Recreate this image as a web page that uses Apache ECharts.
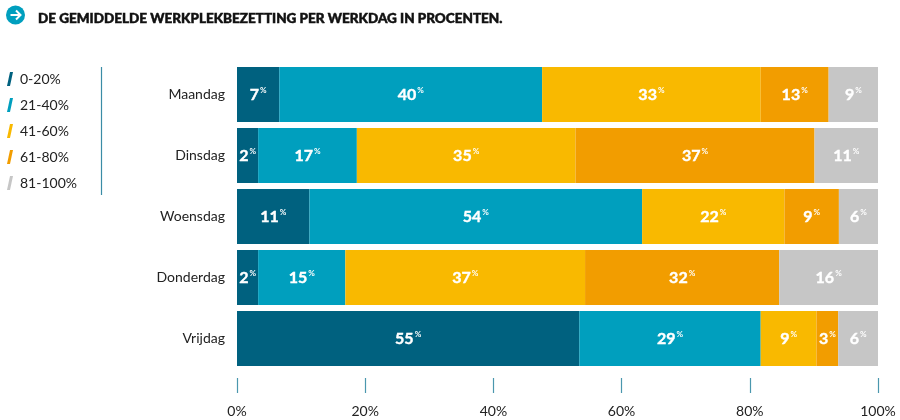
<!DOCTYPE html>
<html>
<head>
<meta charset="utf-8">
<script src="https://cdn.jsdelivr.net/npm/echarts@6/dist/echarts.min.js"></script>
<style>
  html, body { margin: 0; padding: 0; background: #fff; }
  #chart { width: 900px; height: 420px; }
</style>
</head>
<body>
<div id="chart"></div>
<script>
var chart = echarts.init(document.getElementById('chart'));

var days = ['Maandag', 'Dinsdag', 'Woensdag', 'Donderdag', 'Vrijdag'];
var groups = ['0-20%', '21-40%', '41-60%', '61-80%', '81-100%'];
var colors = ['#00617f', '#009fbe', '#f9b900', '#f29d00', '#c6c6c6'];

// percentages printed on the bars, per occupancy group (Ma..Vr)
var label0_20   = [7, 2, 11, 2, 55];
var label21_40  = [40, 17, 54, 15, 29];
var label41_60  = [33, 35, 22, 37, 9];
var label61_80  = [13, 37, 9, 32, 3];
var label81_100 = [9, 11, 6, 16, 6];
var labels = [label0_20, label21_40, label41_60, label61_80, label81_100];

// segment lengths as drawn in the picture (each bar fills 100%)
var width0_20   = [6.6, 3.3, 11.3, 3.3, 53.4];
var width21_40  = [41.0, 15.4, 51.9, 13.6, 28.3];
var width41_60  = [34.1, 34.1, 22.2, 37.4, 8.7];
var width61_80  = [10.6, 37.3, 8.5, 30.3, 3.4];
var width81_100 = [7.7, 9.9, 6.1, 15.4, 6.2];
var widths = [width0_20, width21_40, width41_60, width61_80, width81_100];

var xTicks = [0, 20, 40, 60, 80, 100];

var series = groups.map(function (name, k) {
    return {
        name: name,
        type: 'bar',
        stack: 'total',
        barWidth: 55,
        itemStyle: { color: colors[k] },
        data: widths[k].map(function (w, i) {
            return { value: w, raw: labels[k][i] };
        }),
        label: {
            show: true,
            position: 'inside',
            formatter: function (p) {
                return '{n|' + p.data.raw + '}{p|%}';
            },
            rich: {
                n: { color: '#fff', fontSize: 16, fontWeight: 'bold', fontFamily: 'Lato', textBorderColor: '#fff', textBorderWidth: 0.4 },
                p: { color: '#fff', fontSize: 8, fontWeight: 'bold', fontFamily: 'Lato', verticalAlign: 'top', padding: [0, 0, 6, 1] }
            }
        }
    };
});

var option = {
    animation: false,
    color: colors,
    title: {
        text: 'DE GEMIDDELDE WERKPLEKBEZETTING PER WERKDAG IN PROCENTEN.',
        left: 33,
        top: 7,
        textStyle: { fontFamily: 'Lato', fontWeight: 900, fontSize: 13.5, color: '#111', textBorderColor: '#111', textBorderWidth: 0.5 }
    },
    legend: {
        orient: 'vertical',
        left: 2,
        top: 67,
        itemGap: 12,
        itemWidth: 6,
        itemHeight: 14,
        icon: 'path://M3,0 L6,0 L3,14 L0,14 Z',
        textStyle: { fontFamily: 'Lato', fontSize: 14, color: '#222', padding: [0, 0, 0, 2] },
        data: groups
    },
    graphic: [
        { type: 'circle', shape: { cx: 15.5, cy: 15, r: 9.5 }, style: { fill: '#009fbe' } },
        { type: 'polyline', shape: { points: [[10.5, 15], [20, 15]] }, style: { stroke: '#fff', lineWidth: 2 } },
        { type: 'polyline', shape: { points: [[16, 10.5], [20.5, 15], [16, 19.5]] }, style: { stroke: '#fff', lineWidth: 2, fill: null } },
        { type: 'line', shape: { x1: 101.5, y1: 67, x2: 101.5, y2: 195 }, style: { stroke: '#3b8ca6', lineWidth: 1.2 } }
    ],
    grid: { left: 237, right: 22, top: 64, bottom: 51 },
    xAxis: {
        type: 'value',
        min: 0,
        max: 100,
        interval: 20,
        offset: 9,
        splitLine: { show: false },
        axisLine: { show: false },
        axisTick: { show: true, length: 15, lineStyle: { color: '#4a97ae', width: 1.2 } },
        axisLabel: {
            margin: 26,
            fontFamily: 'Lato',
            fontSize: 14,
            color: '#222',
            formatter: function (v) { return xTicks.indexOf(v) >= 0 ? v + '%' : ''; }
        }
    },
    yAxis: {
        type: 'category',
        data: days,
        inverse: true,
        axisLine: { show: false },
        axisTick: { show: false },
        axisLabel: { margin: 12, fontFamily: 'Lato', fontSize: 14, color: '#222' }
    },
    series: series
};

chart.setOption(option);
</script>
</body>
</html>
